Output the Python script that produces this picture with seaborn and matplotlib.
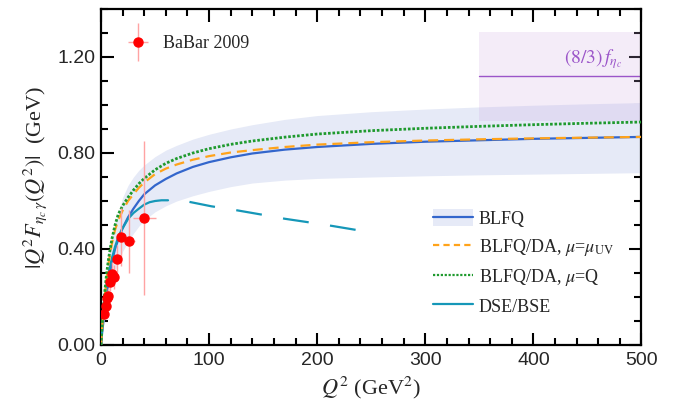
import numpy as np
import pandas as pd
import seaborn as sns
import matplotlib.pyplot as plt
from matplotlib.lines import Line2D
from matplotlib.patches import Patch
from matplotlib.container import ErrorbarContainer
from matplotlib.legend_handler import HandlerErrorbar
from matplotlib.ticker import MultipleLocator, FormatStrFormatter

# Q^2 grid used for the BLFQ curves and band
q2 = [0, 1, 2, 3, 5, 7, 10, 13, 16, 20, 25, 30, 35, 40, 50, 60, 70, 85,
      100, 120, 140, 170, 200, 250, 300, 350, 400, 450, 500]
blfq = [0, 0.05, 0.09, 0.13, 0.20, 0.265, 0.345, 0.40, 0.44, 0.487, 0.532, 0.568,
        0.60, 0.628, 0.665, 0.692, 0.715, 0.742, 0.762, 0.782, 0.798, 0.814,
        0.825, 0.838, 0.847, 0.853, 0.859, 0.863, 0.867]
band_lo = [0, 0.03, 0.07, 0.10, 0.16, 0.21, 0.27, 0.31, 0.34, 0.39, 0.43, 0.465,
           0.495, 0.52, 0.555, 0.58, 0.60, 0.622, 0.64, 0.66, 0.675, 0.687,
           0.694, 0.70, 0.705, 0.709, 0.712, 0.715, 0.718]
band_hi = [0, 0.08, 0.15, 0.21, 0.31, 0.38, 0.46, 0.51, 0.55, 0.615, 0.665, 0.70,
           0.728, 0.75, 0.785, 0.812, 0.832, 0.858, 0.878, 0.90, 0.918, 0.94,
           0.956, 0.972, 0.983, 0.992, 0.999, 1.005, 1.01]
da_uv = [0, 0.07, 0.13, 0.18, 0.27, 0.34, 0.42, 0.48, 0.52, 0.56, 0.60, 0.628,
         0.655, 0.677, 0.712, 0.735, 0.752, 0.772, 0.787, 0.802, 0.812, 0.825,
         0.835, 0.845, 0.852, 0.857, 0.861, 0.864, 0.867]
da_q = [0, 0.08, 0.14, 0.20, 0.29, 0.36, 0.44, 0.50, 0.545, 0.58, 0.615, 0.645,
        0.672, 0.694, 0.73, 0.757, 0.777, 0.80, 0.818, 0.836, 0.85, 0.866,
        0.879, 0.893, 0.903, 0.911, 0.918, 0.924, 0.929]

# DSE/BSE: computed part and extrapolation
dse_q2 = [0, 1, 2, 3, 5, 7, 10, 13, 16, 19, 25, 30, 35, 40, 45, 50, 56, 62]
dse = [0, 0.07, 0.13, 0.18, 0.25, 0.30, 0.36, 0.41, 0.45, 0.479, 0.525, 0.55,
       0.568, 0.585, 0.595, 0.600, 0.603, 0.603]
dse_ext_q2 = [62, 81, 102, 126, 149, 170, 194, 214, 238]
dse_ext = [0.603, 0.597, 0.578, 0.561, 0.543, 0.526, 0.510, 0.496, 0.478]

# BaBar 2009 data
babar_q2 = [2.8, 4.3, 5.3, 6.8, 8.3, 10.2, 12.0, 14.5, 18.5, 26.0, 40.0]
babar = [0.128, 0.163, 0.195, 0.206, 0.264, 0.296, 0.285, 0.358, 0.450, 0.432, 0.530]
babar_yerr = [0.02, 0.02, 0.03, 0.03, 0.04, 0.05, 0.05, 0.06, 0.12, 0.13, 0.32]
babar_xerr = [0.5, 0.5, 0.5, 0.7, 0.7, 1.0, 1.0, 1.5, 3.0, 5.5, 10.5]

# (8/3) f_eta_c band
fetac_q2 = [350, 500]
fetac = 1.12
fetac_lo, fetac_hi = 0.935, 1.305

sns.set_theme(style='ticks')
plt.rcParams['font.family'] = ['Liberation Serif', 'DejaVu Serif']
plt.rcParams['mathtext.fontset'] = 'stix'
plt.rcParams['lines.scale_dashes'] = False

c_blue = '#3366cc'
c_band = '#e6eaf7'
c_orange = '#ffa31a'
c_green = '#1f9a2e'
c_teal = '#1597b8'
c_purple = '#9b55c9'

fig = plt.figure(figsize=(6.99, 4.11), dpi=100)
ax = fig.add_axes([0.1445, 0.1606, 0.7732, 0.8175])

ax.fill_between(q2, band_lo, band_hi, color=c_band, lw=0, zorder=1)
ax.fill_between(fetac_q2, [fetac_lo] * 2, [fetac_hi] * 2, color='#cdaae1',
                alpha=0.22, lw=0, zorder=1.5)
ax.plot(fetac_q2, [fetac] * 2, color=c_purple, lw=1.0, zorder=2)
ax.text(482, 1.19, r'$(8/3)\,f_{\eta_c}$', color=c_purple, fontsize=14,
        ha='right', va='center')

df = pd.DataFrame({'q2': q2, 'blfq': blfq, 'uv': da_uv, 'q': da_q})
sns.lineplot(data=df, x='q2', y='blfq', ax=ax, color=c_blue, lw=1.6,
             estimator=None, sort=False, zorder=4)
sns.lineplot(data=df, x='q2', y='uv', ax=ax, color=c_orange, lw=1.6,
             linestyle=(0, (7.2, 4.3)), estimator=None, sort=False, zorder=5)
sns.lineplot(data=df, x='q2', y='q', ax=ax, color=c_green, lw=2.0,
             linestyle=(0, (1.9, 1.3)), estimator=None, sort=False, zorder=5)
sns.lineplot(x=dse_q2, y=dse, ax=ax, color=c_teal, lw=1.6,
             estimator=None, sort=False, zorder=4)
sns.lineplot(x=dse_ext_q2, y=dse_ext, ax=ax, color=c_teal, lw=1.6,
             linestyle=(18.7, (18.7, 15.5)), estimator=None, sort=False, zorder=4)

eb = ax.errorbar(babar_q2, babar, yerr=babar_yerr, xerr=babar_xerr, fmt='o',
                 color='red', ms=6.5, ecolor='#ffa3a3', elinewidth=1.0,
                 capsize=0, zorder=6, label='BaBar 2009')

ax.set_xlim(0, 500)
ax.set_ylim(0, 1.4)
ax.xaxis.set_major_locator(MultipleLocator(100))
ax.xaxis.set_minor_locator(MultipleLocator(20))
ax.yaxis.set_major_locator(MultipleLocator(0.4))
ax.yaxis.set_minor_locator(MultipleLocator(0.1))
ax.yaxis.set_major_formatter(FormatStrFormatter('%.2f'))
ax.tick_params(which='both', direction='in', top=True, right=True, width=1.5,
               color='black', labelsize=14, labelfontfamily='Liberation Sans')
ax.tick_params(which='major', length=9)
ax.tick_params(which='minor', length=5)
ax.tick_params(axis='x', pad=5)
ax.tick_params(axis='y', pad=4)
for s in ax.spines.values():
    s.set_linewidth(1.6)
    s.set_color('black')

ax.set_xlabel(r'$Q^2$ (GeV$^2$)', fontsize=16, labelpad=4)
ax.set_ylabel(r'$|Q^2F_{\eta_c\,\gamma}(Q^2)|$  (GeV)', fontsize=16, labelpad=6)

h_blfq = (Patch(facecolor=c_band, edgecolor='none'), Line2D([], [], color=c_blue, lw=1.6))
h_uv = Line2D([], [], color=c_orange, lw=1.6, linestyle=(0, (4.5, 3.0)))
h_q = Line2D([], [], color=c_green, lw=1.6, linestyle=(0, (1.6, 1.2)))
h_dse = Line2D([], [], color=c_teal, lw=1.6)
leg = ax.legend([h_blfq, h_uv, h_q, h_dse],
                ['BLFQ', r'BLFQ/DA, $\mu$=$\mu_{\rm UV}$', r'BLFQ/DA, $\mu$=Q', 'DSE/BSE'],
                loc='center left', bbox_to_anchor=(0.614, 0.2455), frameon=False,
                fontsize=13, handlelength=2.2, handletextpad=0.35, handleheight=1.05,
                labelspacing=0.5, borderpad=0, borderaxespad=0)
ax.add_artist(leg)
ax.legend([eb], ['BaBar 2009'], loc='center left', bbox_to_anchor=(0.033, 0.896),
          frameon=False, fontsize=13, handlelength=2.1, handletextpad=0.35,
          borderpad=0, borderaxespad=0,
          handler_map={ErrorbarContainer: HandlerErrorbar(xerr_size=0.55, yerr_size=1.05)})

fig.savefig('out.png', dpi=100)
